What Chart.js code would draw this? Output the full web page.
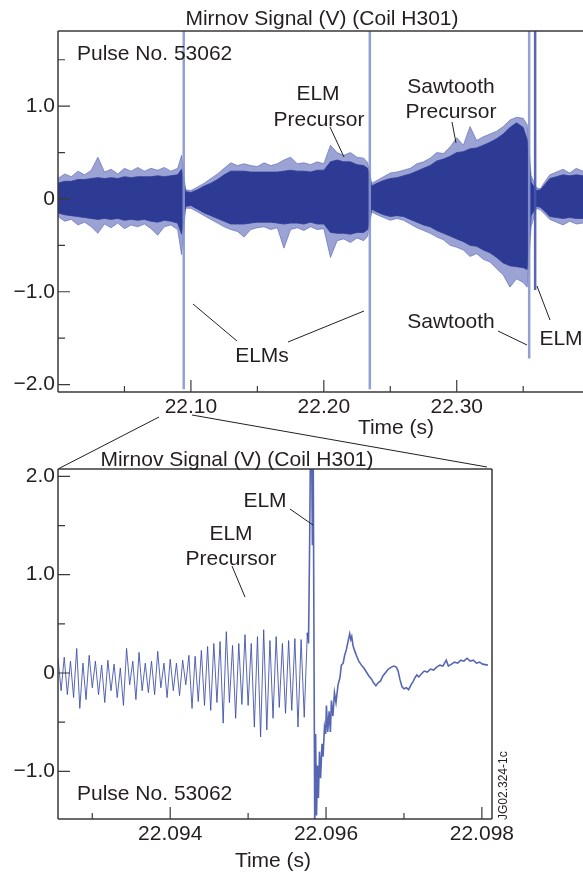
<!DOCTYPE html>
<html>
<head>
<meta charset="utf-8">
<script src="https://cdn.jsdelivr.net/npm/chart.js@4.4.1/dist/chart.umd.min.js"></script>
<style>
  html, body { margin: 0; padding: 0; background: #fff; }
  #wrap { position: relative; width: 583px; height: 877px; overflow: hidden; }
  canvas { position: absolute; left: 0; }
  #shot { top: 0; }
  #zoom { top: 440px; }
</style>
</head>
<body>
<div id="wrap">
  <canvas id="shot" width="583" height="475" style="width:583px;height:475px"></canvas>
  <canvas id="zoom" width="583" height="437" style="width:583px;height:437px"></canvas>
</div>
<script>
// Whole window: envelope of the Mirnov trace (V)
const envTime = [
  22.000, 22.005, 22.010, 22.015, 22.020, 22.025, 22.030, 22.035, 22.040, 22.045,
  22.050, 22.055, 22.060, 22.065, 22.070, 22.075, 22.080, 22.085, 22.090, 22.093,
  22.096, 22.100, 22.105, 22.110, 22.115, 22.120, 22.125, 22.130, 22.135, 22.140,
  22.145, 22.150, 22.155, 22.160, 22.165, 22.170, 22.175, 22.180, 22.185, 22.190,
  22.195, 22.200, 22.205, 22.210, 22.215, 22.220, 22.225, 22.230, 22.233,
  22.236, 22.240, 22.245, 22.250, 22.255, 22.260, 22.265, 22.270, 22.275, 22.280,
  22.285, 22.290, 22.295, 22.300, 22.305, 22.310, 22.315, 22.320, 22.325, 22.330,
  22.335, 22.340, 22.345, 22.350, 22.353,
  22.356, 22.360, 22.363, 22.366, 22.370, 22.375, 22.380, 22.385, 22.390, 22.395
];
const envOuterHigh = [
  0.22, 0.27, 0.24, 0.30, 0.26, 0.31, 0.45, 0.29, 0.32, 0.27,
  0.33, 0.30, 0.34, 0.30, 0.33, 0.31, 0.34, 0.30, 0.33, 0.47,
  0.10, 0.09, 0.13, 0.17, 0.22, 0.27, 0.33, 0.39, 0.36, 0.38,
  0.36, 0.35, 0.39, 0.36, 0.38, 0.42, 0.45, 0.38, 0.39, 0.37,
  0.40, 0.38, 0.58, 0.50, 0.47, 0.50, 0.45, 0.44, 0.39,
  0.17, 0.20, 0.24, 0.28, 0.29, 0.31, 0.33, 0.38, 0.40, 0.44,
  0.50, 0.49, 0.56, 0.66, 0.58, 0.78, 0.63, 0.67, 0.70, 0.73,
  0.78, 0.85, 0.88, 0.87, 0.80,
  0.25, 0.12, 0.11, 0.18, 0.26, 0.29, 0.32, 0.28, 0.33, 0.30
];
const envInnerHigh = [
  0.17, 0.19, 0.19, 0.21, 0.21, 0.22, 0.23, 0.22, 0.23, 0.22,
  0.24, 0.23, 0.24, 0.24, 0.24, 0.25, 0.24, 0.25, 0.26, 0.32,
  0.08, 0.07, 0.10, 0.14, 0.17, 0.21, 0.26, 0.30, 0.30, 0.30,
  0.29, 0.29, 0.29, 0.29, 0.29, 0.30, 0.31, 0.30, 0.30, 0.29,
  0.31, 0.31, 0.40, 0.42, 0.40, 0.40, 0.37, 0.36, 0.33,
  0.14, 0.17, 0.20, 0.22, 0.23, 0.25, 0.27, 0.30, 0.33, 0.36,
  0.41, 0.43, 0.46, 0.50, 0.51, 0.54, 0.55, 0.58, 0.61, 0.65,
  0.70, 0.77, 0.82, 0.77, 0.64,
  0.18, 0.09, 0.10, 0.15, 0.22, 0.24, 0.26, 0.25, 0.26, 0.25
];
const envInnerLow = [
  -0.15, -0.17, -0.18, -0.19, -0.20, -0.21, -0.22, -0.21, -0.22, -0.21,
  -0.23, -0.22, -0.23, -0.22, -0.24, -0.25, -0.23, -0.24, -0.26, -0.38,
  -0.08, -0.07, -0.11, -0.15, -0.18, -0.21, -0.24, -0.27, -0.27, -0.27,
  -0.26, -0.25, -0.25, -0.25, -0.26, -0.27, -0.26, -0.26, -0.27, -0.25,
  -0.27, -0.27, -0.36, -0.37, -0.37, -0.38, -0.36, -0.36, -0.33,
  -0.11, -0.14, -0.17, -0.19, -0.18, -0.19, -0.22, -0.25, -0.28, -0.30,
  -0.34, -0.37, -0.40, -0.43, -0.46, -0.50, -0.51, -0.55, -0.58, -0.63,
  -0.69, -0.72, -0.73, -0.74, -0.76,
  -0.18, -0.08, -0.09, -0.13, -0.19, -0.20, -0.21, -0.20, -0.21, -0.21
];
const envOuterLow = [
  -0.19, -0.24, -0.22, -0.28, -0.25, -0.30, -0.37, -0.27, -0.31, -0.26,
  -0.32, -0.28, -0.30, -0.27, -0.32, -0.39, -0.30, -0.28, -0.33, -0.60,
  -0.10, -0.10, -0.14, -0.18, -0.22, -0.26, -0.30, -0.33, -0.35, -0.41,
  -0.33, -0.31, -0.30, -0.33, -0.31, -0.53, -0.33, -0.31, -0.34, -0.30,
  -0.33, -0.32, -0.63, -0.45, -0.43, -0.47, -0.42, -0.45, -0.40,
  -0.14, -0.17, -0.20, -0.23, -0.21, -0.23, -0.27, -0.31, -0.34, -0.37,
  -0.41, -0.44, -0.50, -0.52, -0.55, -0.62, -0.59, -0.65, -0.68, -0.75,
  -0.82, -0.95, -0.86, -0.90, -0.95,
  -0.30, -0.10, -0.12, -0.16, -0.22, -0.25, -0.28, -0.24, -0.27, -0.26
];

// ELM and sawtooth spikes (time, top, bottom)
const spikeTime = [22.0946, 22.2346, 22.3545, 22.3590];
const spikeHigh = [1.95, 1.95, 1.95, 1.95];
const spikeLow = [-2.05, -2.05, -1.72, -0.98];

// Zoomed window: precursor oscillation sampled every 40 us
const zoomStart = 22.09256;
const zoomStep = 0.00004;
const precursorVolts = [
  0.15, -0.18, 0.16, -0.22, 0.12, -0.25, 0.25, -0.36, 0.10, -0.27,
  0.18, -0.15, 0.12, -0.22, 0.08, -0.30, 0.13, -0.18, 0.09, -0.25,
  0.05, -0.33, 0.25, -0.12, 0.12, -0.27, 0.21, -0.18, 0.10, -0.20,
  0.12, -0.22, 0.22, -0.15, 0.10, -0.25, 0.14, -0.18, 0.10, -0.23,
  0.13, -0.12, 0.18, -0.36, 0.17, -0.29, 0.23, -0.33, 0.27, -0.38,
  0.30, -0.30, 0.32, -0.51, 0.42, -0.30, 0.28, -0.46, 0.30, -0.32,
  0.39, -0.33, 0.30, -0.55, 0.37, -0.65, 0.44, -0.58, 0.33, -0.46,
  0.37, -0.35, 0.30, -0.41, 0.33, -0.38, 0.35, -0.55, 0.34, -0.45,
  0.41
];
// ELM crash and recovery
const crashTime = [
  22.095775, 22.095790, 22.095800, 22.095815, 22.095825, 22.095835, 22.095845, 22.095855,
  22.095866, 22.095878, 22.095890, 22.095902, 22.095916, 22.095930, 22.095948, 22.095962,
  22.095980, 22.095995, 22.096005, 22.096022, 22.096040, 22.096056, 22.096069, 22.096088,
  22.096108, 22.096128, 22.096154, 22.096178, 22.096197, 22.096220, 22.096239, 22.096262,
  22.096282, 22.096304, 22.096318, 22.096330, 22.096346, 22.096370, 22.096389, 22.096420,
  22.096454, 22.096485, 22.096518, 22.096550, 22.096582, 22.096610, 22.096640, 22.096668,
  22.096700, 22.096730, 22.096760, 22.096800, 22.096838, 22.096870, 22.096902, 22.096925,
  22.096950, 22.096975, 22.097000, 22.097030, 22.097060, 22.097090, 22.097115, 22.097140,
  22.097165, 22.097190, 22.097223, 22.097260, 22.097300, 22.097340, 22.097380, 22.097420,
  22.097460, 22.097500, 22.097543, 22.097570, 22.097610, 22.097650, 22.097690, 22.097730,
  22.097770, 22.097810, 22.097850, 22.097890, 22.097930, 22.097970, 22.098010, 22.098077
];
const crashVolts = [
  0.30, 1.35, 2.30, 2.30, 1.30, 2.30, 2.30, -1.60,
  -0.62, -1.45, -0.94, -1.27, -0.80, -1.07, -0.72, -0.85,
  -0.55, -0.62, -0.33, -0.60, -0.39, -0.60, -0.28, -0.44,
  -0.20, -0.30, -0.12, -0.05, 0.08, 0.10, 0.18, 0.24,
  0.32, 0.40, 0.34, 0.37, 0.28, 0.22, 0.18, 0.12,
  0.08, 0.05, 0.01, -0.03, -0.06, -0.10, -0.13, -0.10,
  -0.08, -0.03, 0.00, 0.04, 0.06, 0.07, 0.06, 0.02,
  -0.07, -0.14, -0.16, -0.15, -0.17, -0.12, -0.09, -0.05,
  -0.02, -0.04, -0.01, 0.02, 0.01, 0.04, 0.03, 0.06,
  0.08, 0.07, 0.13, 0.07, 0.09, 0.11, 0.10, 0.13,
  0.12, 0.15, 0.12, 0.13, 0.10, 0.11, 0.09, 0.08
];

// Axis ticks
const shotXTicks = [22.05, 22.10, 22.15, 22.20, 22.25, 22.30, 22.35];
const shotXLabels = ['', '22.10', '', '22.20', '', '22.30', ''];
const shotYTicks = [-2.0, -1.5, -1.0, -0.5, 0, 0.5, 1.0, 1.5];
const shotYLabels = ['\u22122.0', '', '\u22121.0', '', '0', '', '1.0', ''];
const zoomXTicks = [22.093, 22.094, 22.095, 22.096, 22.097, 22.098];
const zoomXLabels = ['', '22.094', '', '22.096', '', '22.098'];
const zoomYTicks = [-1.0, -0.5, 0, 0.5, 1.0, 1.5, 2.0];
const zoomYLabels = ['\u22121.0', '', '0', '', '1.0', '', '2.0'];

const FONT = '"Liberation Sans", Arial, Helvetica, sans-serif';
const INK = '#231f20';
const AXIS = '#3a3a3a';
const CORE = '#2d3b95';
const FRINGE = 'rgba(72,88,178,0.55)';
const SPIKE = 'rgba(135,150,210,0.9)';
const TRACE = 'rgba(58,75,165,0.85)';

function pairs(xs, ys) {
  return xs.map((x, i) => ({ x: x, y: ys[i] }));
}

// box lines plus inward tick marks
function framePlugin(sides) {
  return {
    id: 'frame',
    afterDraw(chart) {
      const { ctx, chartArea: a, scales } = chart;
      ctx.save();
      ctx.strokeStyle = AXIS;
      ctx.lineWidth = 1.5;
      ctx.beginPath();
      if (sides.includes('l')) { ctx.moveTo(a.left, a.top); ctx.lineTo(a.left, a.bottom); }
      if (sides.includes('t')) { ctx.moveTo(a.left, a.top); ctx.lineTo(a.right, a.top); }
      if (sides.includes('b')) { ctx.moveTo(a.left, a.bottom); ctx.lineTo(a.right, a.bottom); }
      if (sides.includes('r')) { ctx.moveTo(a.right, a.top); ctx.lineTo(a.right, a.bottom); }
      ctx.stroke();
      ctx.lineWidth = 1.2;
      ctx.beginPath();
      scales.x.ticks.forEach(t => {
        const px = scales.x.getPixelForValue(t.value);
        const len = t.label ? 12 : 6;
        ctx.moveTo(px, a.bottom);
        ctx.lineTo(px, a.bottom - len);
      });
      scales.y.ticks.forEach(t => {
        const py = scales.y.getPixelForValue(t.value);
        const len = t.label ? 12 : 7;
        ctx.moveTo(a.left, py);
        ctx.lineTo(a.left + len, py);
      });
      ctx.stroke();
      ctx.restore();
    }
  };
}

// labels, pointer lines and titles
function notesPlugin(texts, lines, extra) {
  return {
    id: 'notes',
    afterDraw(chart) {
      const ctx = chart.ctx;
      ctx.save();
      ctx.fillStyle = INK;
      ctx.strokeStyle = INK;
      ctx.font = '21px ' + FONT;
      ctx.textBaseline = 'alphabetic';
      texts.forEach(([s, x, y, align]) => {
        ctx.textAlign = align || 'center';
        ctx.fillText(s, x, y);
      });
      ctx.lineWidth = 1;
      ctx.beginPath();
      lines.forEach(([x1, y1, x2, y2]) => {
        ctx.moveTo(x1, y1);
        ctx.lineTo(x2, y2);
      });
      ctx.stroke();
      if (extra) extra(ctx);
      ctx.restore();
    }
  };
}

function axisScale(min, max, ticks, labels, opts) {
  return Object.assign({
    type: 'linear',
    min: min,
    max: max,
    afterBuildTicks: s => { s.ticks = ticks.map(v => ({ value: v })); },
    ticks: {
      callback: (v, i) => labels[i],
      autoSkip: false,
      maxRotation: 0,
      padding: 3,
      color: INK,
      font: { family: FONT, size: 21 }
    },
    grid: { display: false, drawTicks: false },
    border: { display: false }
  }, opts);
}

const baseOptions = {
  responsive: false,
  devicePixelRatio: 1,
  animation: false,
  events: [],
  elements: { point: { radius: 0 }, line: { tension: 0 } },
  plugins: { legend: { display: false }, tooltip: { enabled: false }, title: { display: false } }
};

// ---- full time window ----
const shotSets = [
  { data: pairs(envTime, envInnerHigh), fill: '+1', backgroundColor: CORE, borderColor: CORE, borderWidth: 0.8 },
  { data: pairs(envTime, envInnerLow), fill: false, borderColor: CORE, borderWidth: 0.8 },
  { data: pairs(envTime, envOuterHigh), fill: '+1', backgroundColor: FRINGE, borderColor: FRINGE, borderWidth: 1 },
  { data: pairs(envTime, envOuterLow), fill: false, borderColor: FRINGE, borderWidth: 1 }
];
spikeTime.forEach((t, i) => {
  shotSets.push({
    data: [{ x: t, y: spikeHigh[i] }, { x: t, y: spikeLow[i] }],
    fill: false,
    borderColor: i === 3 ? 'rgba(70,85,175,0.9)' : SPIKE,
    borderWidth: 2.5,
    order: -1
  });
});

new Chart(document.getElementById('shot'), {
  type: 'line',
  data: { datasets: shotSets },
  options: Object.assign({}, baseOptions, {
    layout: { padding: { top: 31, left: 0, right: 0, bottom: 0 } },
    scales: {
      x: axisScale(22.0, 22.395, shotXTicks, shotXLabels, { afterFit: s => { s.height = 83; } }),
      y: axisScale(-2.08, 1.81, shotYTicks, shotYLabels, { afterFit: s => { s.width = 58; } })
    }
  }),
  plugins: [
    framePlugin('ltb'),
    notesPlugin([
      ['Mirnov Signal (V) (Coil H301)', 322, 25],
      ['Pulse No. 53062', 77, 60, 'left'],
      ['ELM', 318, 100],
      ['Precursor', 319, 126],
      ['Sawtooth', 451, 93],
      ['Precursor', 451, 118],
      ['ELMs', 262, 362],
      ['Sawtooth', 451, 328],
      ['ELM', 561, 345],
      ['Time (s)', 396, 434]
    ], [
      [330, 127, 344, 157],
      [452, 122, 456, 143],
      [193, 304, 237, 341],
      [288, 342, 364, 311],
      [498, 331, 527, 345],
      [537, 286, 550, 320],
      [159, 417, 58, 469],
      [192, 415, 487, 467]
    ])
  ]
});

// ---- zoom on the first ELM ----
const precursorPoints = precursorVolts.map((v, i) => ({ x: zoomStart + i * zoomStep, y: v }));
const crashPoints = [precursorPoints[precursorPoints.length - 1]].concat(pairs(crashTime, crashVolts));

new Chart(document.getElementById('zoom'), {
  type: 'line',
  data: {
    datasets: [
      { data: precursorPoints, fill: false, borderColor: TRACE, borderWidth: 1 },
      { data: crashPoints, fill: false, borderColor: TRACE, borderWidth: 1.6 }
    ]
  },
  options: Object.assign({}, baseOptions, {
    layout: { padding: { top: 29, left: 0, right: 91, bottom: 0 } },
    scales: {
      x: axisScale(22.09256, 22.09813, zoomXTicks, zoomXLabels, { afterFit: s => { s.height = 58; } }),
      y: axisScale(-1.485, 2.075, zoomYTicks, zoomYLabels, { afterFit: s => { s.width = 58; } })
    }
  }),
  plugins: [
    framePlugin('ltbr'),
    notesPlugin([
      ['Mirnov Signal (V) (Coil H301)', 237, 26],
      ['ELM', 265, 67],
      ['ELM', 231, 100],
      ['Precursor', 231, 125],
      ['Pulse No. 53062', 77, 360, 'left'],
      ['Time (s)', 273, 427]
    ], [
      [290, 69, 313, 85],
      [232, 126, 245, 157]
    ], ctx => {
      ctx.font = '12px ' + FONT;
      ctx.translate(507, 380);
      ctx.rotate(-Math.PI / 2);
      ctx.textAlign = 'left';
      ctx.fillText('JG02.324-1c', 0, 0);
    })
  ]
});
</script>
</body>
</html>
